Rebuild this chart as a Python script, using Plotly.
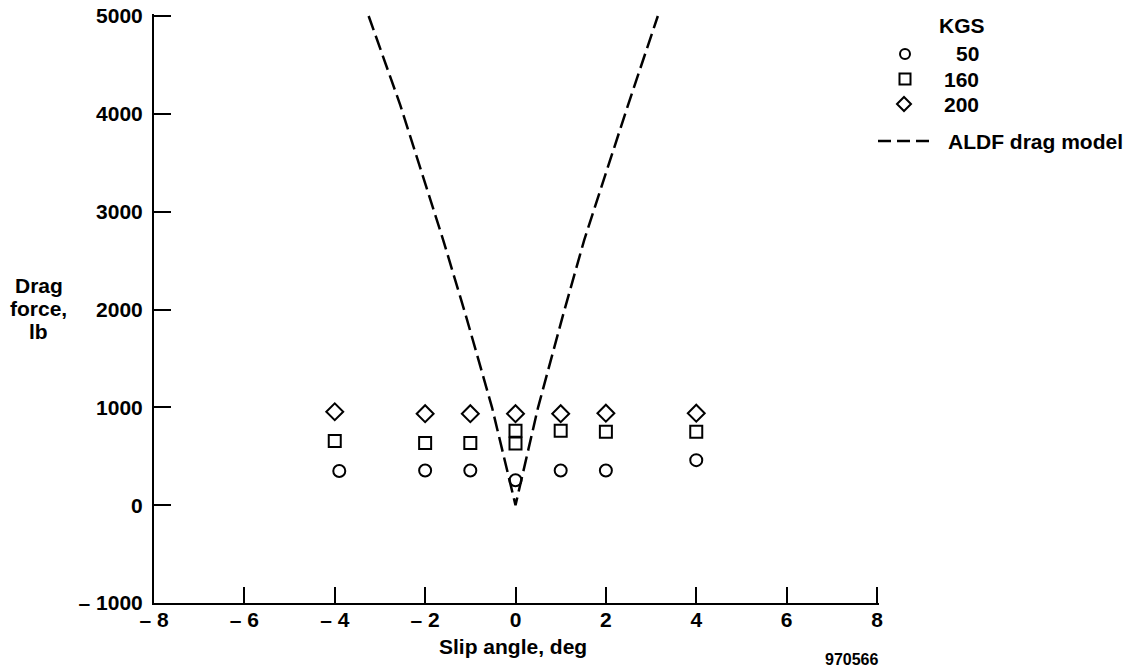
import plotly.graph_objects as go

# Data
x_kgs50 = [-3.9, -2, -1, 0, 1, 2, 4]
y_kgs50 = [350, 355, 355, 255, 355, 355, 460]

x_kgs160 = [-4, -2, -1, 0, 0, 1, 2, 4]
y_kgs160 = [655, 635, 635, 630, 760, 760, 750, 750]

x_kgs200 = [-4, -2, -1, 0, 1, 2, 4]
y_kgs200 = [955, 935, 935, 935, 935, 940, 940]

x_model = [-3.25, -2.55, -1.6, -1.1, -0.52, 0, 0.5, 1.05, 1.52, 2.49, 3.15]
y_model = [5000, 4090, 2710, 1940, 1000, 0, 1000, 1940, 2710, 4090, 5000]

x_tickvals = [-8, -6, -4, -2, 0, 2, 4, 6, 8]
x_ticktext = ["\u2013 8", "\u2013 6", "\u2013 4", "\u2013 2", "0", "2", "4", "6", "8"]
y_tickvals = [-1000, 0, 1000, 2000, 3000, 4000, 5000]
y_ticktext = ["\u2013 1000", "0", "1000", "2000", "3000", "4000", "5000"]

legend_title = "KGS"
legend_names = ["50", "160", "200"]
model_name = "ALDF drag model"

FONT = "Liberation Sans, Arial, sans-serif"
BOLD = dict(family=FONT, size=21, color="black", weight="bold")

# pixel positions of the axis ends (x=-8..8, y=-1000..5000)
X0P, X1P, Y0P, Y1P = 154, 877, 603, 16
XU = 16 / (X1P - X0P)      # data units per pixel
YU = 6000 / (Y0P - Y1P)
EXT = 2                     # extend 2px so inside ticks at the ends are drawn
PL, PR, PT, PB = X0P, X1P + EXT, Y1P - EXT, Y0P
PW, PH = PR - PL, PB - PT


def px(x):
    return (x - PL) / PW


def py(y):
    return (PB - y) / PH


fig = go.Figure()
fig.add_trace(go.Scatter(x=x_kgs50, y=y_kgs50, mode="markers", name="50",
                         marker=dict(symbol="circle-open", size=12, color="black",
                                     line=dict(width=2, color="black"))))
fig.add_trace(go.Scatter(x=x_kgs160, y=y_kgs160, mode="markers", name="160",
                         marker=dict(symbol="square-open", size=12, color="black",
                                     line=dict(width=2, color="black"))))
fig.add_trace(go.Scatter(x=x_kgs200, y=y_kgs200, mode="markers", name="200",
                         marker=dict(symbol="diamond-open", size=13, color="black",
                                     line=dict(width=2, color="black"))))
fig.add_trace(go.Scatter(x=x_model, y=y_model, mode="lines", name=model_name,
                         line=dict(color="black", width=2.5, dash="15px,6px")))

fig.update_layout(
    width=1131, height=671,
    margin=dict(l=PL, r=1131 - PR, t=PT, b=671 - PB),
    paper_bgcolor="white", plot_bgcolor="white",
    font=BOLD,
    showlegend=False,
    xaxis=dict(range=[-8, 8 + EXT * XU], showgrid=False, zeroline=False, showline=True,
               linecolor="black", linewidth=2, ticks="inside", ticklen=16,
               tickwidth=2, tickcolor="black", tickvals=x_tickvals,
               ticktext=x_ticktext, tickfont=BOLD, ticklabelstandoff=-3,
               ticklabeloverflow="allow", automargin=False),
    yaxis=dict(range=[-1000, 5000 + EXT * YU], showgrid=False, zeroline=False,
               showline=True,
               linecolor="black", linewidth=2, ticks="inside", ticklen=17,
               tickwidth=2, tickcolor="black", tickvals=y_tickvals,
               ticktext=y_ticktext, tickfont=BOLD, ticklabelstandoff=5,
               ticklabeloverflow="allow", automargin=False),
)


def note(text, x, y, xanchor="center", font=BOLD):
    fig.add_annotation(text=text, xref="paper", yref="paper", x=px(x), y=py(y),
                       showarrow=False, xanchor=xanchor, yanchor="middle",
                       font=font)


note("Slip angle, deg", 513, 646)
note("Drag", 39, 285)
note("force,", 39, 308)
note("lb", 39, 331)
note("970566", 851, 659, font=dict(family=FONT, size=16, color="black"))

# manual legend
note(legend_title, 962, 26)
leg_y = [54, 79, 104]
for name, yy in zip(legend_names, leg_y):
    note(name, 981, yy, xanchor="right")
note(model_name, 946, 141, xanchor="left")

LW = dict(color="black", width=2)
fig.add_shape(type="circle", xref="paper", yref="paper",
              x0=px(905 - 5), x1=px(905 + 5), y0=py(54 + 5), y1=py(54 - 5),
              line=LW)
fig.add_shape(type="rect", xref="paper", yref="paper",
              x0=px(905 - 5.5), x1=px(905 + 5.5), y0=py(79 + 5.5), y1=py(79 - 5.5),
              line=LW)
cx, cy, r = 904, 104, 7
fig.add_shape(type="path", xref="paper", yref="paper",
              path=f"M {px(cx - r)} {py(cy)} L {px(cx)} {py(cy - r)} L {px(cx + r)} {py(cy)} "
                   f"L {px(cx)} {py(cy + r)} Z",
              line=LW)
fig.add_shape(type="line", xref="paper", yref="paper",
              x0=px(878), x1=px(929), y0=py(141), y1=py(141),
              line=dict(color="black", width=2.5, dash="13px,6px"))

fig.write_html("out.html",
               config={"displayModeBar": False},
               post_script="document.body.style.margin='0';")
